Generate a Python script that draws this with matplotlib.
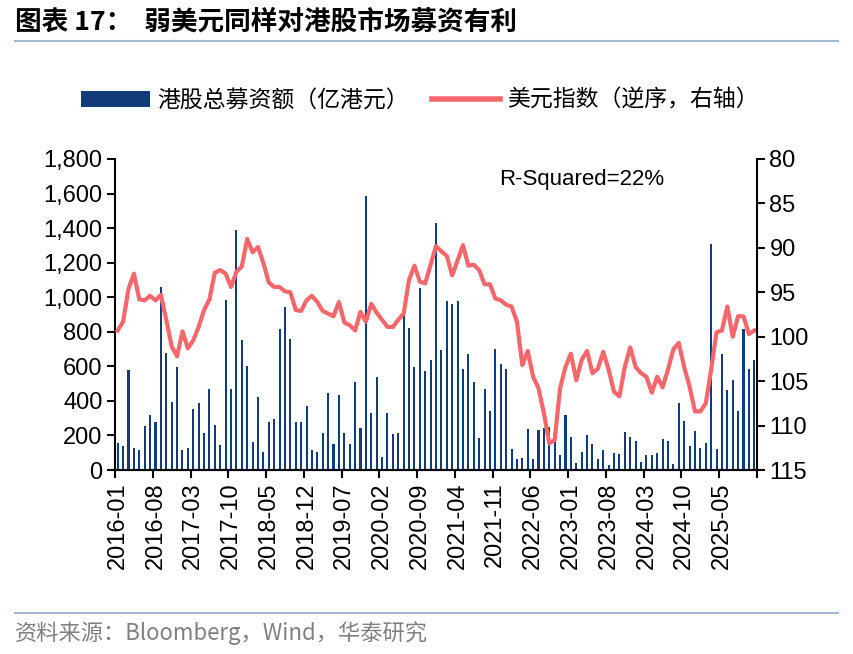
import matplotlib
matplotlib.use('Agg')
import matplotlib.pyplot as plt
import numpy as np
import pandas as pd
from matplotlib.lines import Line2D
from matplotlib.patches import Patch
from matplotlib.ticker import FuncFormatter

plt.rcParams['font.family'] = ['Liberation Sans', 'Noto Sans CJK SC']

months = pd.period_range('2016-01', periods=119, freq='M').strftime('%Y-%m').tolist()

# 港股总募资额（亿港元）
ipo = [155, 141, 579, 125, 118, 255, 316, 280, 1059, 675, 392, 594, 118, 125, 351, 390, 214, 467, 258, 147,
       984, 467, 1389, 752, 600, 160, 421, 104, 276, 295, 818, 943, 758, 280, 280, 372, 118, 104, 214, 447,
       149, 434, 212, 149, 507, 245, 1586, 328, 540, 77, 332, 206, 216, 897, 820, 598, 1055, 575, 637, 1431,
       694, 976, 961, 976, 586, 671, 509, 187, 467, 341, 702, 613, 583, 123, 65, 69, 235, 64, 231, 241,
       247, 164, 87, 318, 193, 42, 104, 203, 149, 62, 116, 29, 100, 93, 220, 193, 168, 48, 87, 87,
       96, 177, 170, 35, 386, 283, 141, 227, 127, 158, 1306, 122, 670, 463, 521, 340, 814, 583, 637]

# 美元指数（逆序，右轴）
dxy = [99.3, 98.3, 94.6, 92.9, 95.8, 95.9, 95.4, 95.9, 95.3, 98.1, 101.1, 102.2, 99.4, 101.3, 100.4, 98.9,
       97.0, 95.8, 92.8, 92.5, 92.9, 94.4, 92.7, 92.1, 89.0, 90.5, 89.9, 91.7, 93.9, 94.4, 94.4, 94.9,
       95.0, 97.0, 97.1, 95.9, 95.4, 96.1, 97.1, 97.4,
       97.7, 96.1, 98.4, 98.7, 99.3, 97.2, 98.3, 96.3, 97.3, 98.1, 98.9, 98.9, 98.1, 97.4, 93.6, 92.0,
       93.8, 94.0, 91.9, 89.8, 90.4, 90.9, 93.1, 91.4, 89.7, 92.0, 91.9, 92.5, 94.1, 94.1, 95.7, 95.9,
       96.4, 96.6, 98.3, 103.2, 101.6, 104.5, 105.8, 108.6,
       112.0, 111.6, 105.8, 103.4, 101.9, 104.9, 102.6, 101.6, 104.1, 103.6, 101.7, 103.7, 106.2, 106.7,
       103.4, 101.2, 103.4, 104.1, 104.5, 106.3, 104.5, 105.7, 103.7, 101.4, 100.7, 103.4, 105.6, 108.4,
       108.4, 107.5, 103.7, 99.5, 99.3, 96.6, 100.0, 97.7, 97.7, 99.7, 99.3]

bar_color = '#123B7A'
line_color = '#F5676A'
cjk = ['Noto Sans CJK SC', 'DejaVu Sans']

fig = plt.figure(figsize=(8.54, 6.54), dpi=100)
ax = fig.add_axes([0.1347, 0.2813, 0.7517, 0.4756])
ax2 = ax.twinx()

x = np.arange(len(months))
ax.bar(x, ipo, width=0.38, color=bar_color)
ax2.plot(x, dxy, color=line_color, lw=3.0, solid_joinstyle='round')

ax.set_xlim(-0.5, len(months) - 0.5)
ax.set_ylim(0, 1800)
ax.set_yticks(range(0, 1801, 200))
ax.yaxis.set_major_formatter(FuncFormatter(lambda v, p: f'{int(v):,}'))
ax2.set_ylim(115, 80)
ax2.set_yticks(range(80, 116, 5))

# labels on category centres, tick marks on category boundaries
lab_pos = x[::7]
ax.set_xticks(lab_pos)
ax.set_xticklabels([months[i] for i in lab_pos], rotation=90)
ax.set_xticks(np.arange(-0.5, len(months), 7), minor=True)
ax.tick_params(axis='x', which='major', length=0, pad=9, labelsize=17)
ax.tick_params(axis='x', which='minor', length=6, width=1.5, direction='out')
ax.tick_params(axis='y', length=6, width=1.5, direction='out', labelsize=17, pad=3)
ax2.tick_params(axis='y', length=6, width=1.5, direction='out', labelsize=17, pad=3)

for a in (ax, ax2):
    a.spines['top'].set_visible(False)
    for s in ('left', 'right', 'bottom'):
        a.spines[s].set_linewidth(1.5)
ax.spines['right'].set_visible(False)
ax2.spines['left'].set_visible(False)

fig.text(0.681, 0.725, 'R-Squared=22%', fontsize=16, ha='center', va='center')

handles = [Patch(facecolor=bar_color, edgecolor='none'), Line2D([], [], color=line_color, lw=4)]
labels = ['港股总募资额（亿港元）', '美元指数（逆序，右轴）']
fig.legend(handles, labels, loc='center', bbox_to_anchor=(0.492, 0.847), ncol=2, frameon=False,
           prop={'family': cjk, 'size': 16.5}, handlelength=3.0, handletextpad=0.3, columnspacing=1.0)

fig.text(0.018, 0.966, '图表 17：  弱美元同样对港股市场募资有利', fontsize=19.2, fontweight='bold',
         family=cjk, ha='left', va='center')
fig.add_artist(Line2D([0.018, 0.981], [0.937, 0.937], color='#A3B8D3', lw=1.5))
fig.add_artist(Line2D([0.018, 0.981], [0.0627, 0.0627], color='#A3B8D3', lw=1.5))
fig.text(0.018, 0.032, '资料来源：Bloomberg，Wind，华泰研究', fontsize=16, color='#808080',
         family=cjk, ha='left', va='center')

fig.savefig('out.png', dpi=100)
